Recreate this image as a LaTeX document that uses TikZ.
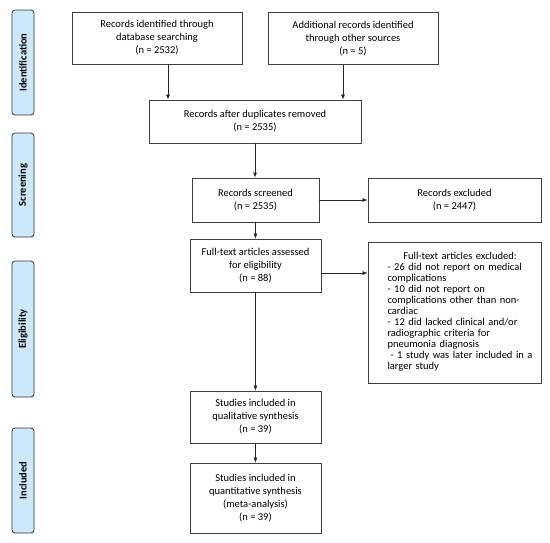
\documentclass[tikz,border=0pt]{standalone}
\usepackage{fontspec}
\setmainfont{Carlito}
\usetikzlibrary{arrows.meta}
\definecolor{phasecol}{RGB}{204,232,251}
\begin{document}
\begin{tikzpicture}[x=1pt,y=-1pt,
  box/.style={draw=black!75, line width=0.8pt, align=center, inner sep=2pt,
    font=\fontsize{10.5}{13}\selectfont},
  phase/.style={draw=black!80, line width=0.8pt, rounded corners=3pt, fill=phasecol,
    minimum height=22pt, rotate=90, inner sep=0pt,
    font=\fontsize{10.5}{12}\selectfont\bfseries},
  arr/.style={-{Latex[length=5pt,width=4pt]}, line width=0.7pt, draw=black!85}]
\useasboundingbox[fill=white] (0,0) rectangle (550,542);

% phase labels
\node[phase, minimum width=105pt] (pid) at (23,62.5) {Identification};
\node[phase, minimum width=104pt] (psc) at (23,185) {Screening};
\node[phase, minimum width=136pt] (pel) at (23,329) {Eligibility};
\node[phase, minimum width=105pt] (pin) at (23,480.5) {Included};

% boxes
\node[box, minimum width=170pt, minimum height=52pt] (A) at (157,38)
  {Records identified through\\database searching\\(n = 2532)};
\node[box, minimum width=170pt, minimum height=52pt] (B) at (353,38.5)
  {Additional records identified\\through other sources\\(n = 5)};
\node[box, minimum width=212pt, minimum height=43pt] (C) at (255,121.5)
  {Records after duplicates removed\\(n = 2535)};
\node[box, minimum width=127pt, minimum height=44pt] (D) at (255.5,200)
  {Records screened\\(n = 2535)};
\node[box, minimum width=173pt, minimum height=44pt] (E) at (454.5,200)
  {Records excluded\\(n = 2447)};
\node[box, minimum width=131pt, minimum height=53pt] (F) at (255.5,265.5)
  {Full-text articles assessed\\for eligibility\\(n = 88)};
\node[box, minimum width=173pt, minimum height=141pt] (G) at (454.5,312.5) {};
\node[text width=145pt, align=left, inner sep=0pt, font=\fontsize{10.5}{11}\selectfont]
  (Gt) at (460,312)
  {\makebox[145pt]{Full-text articles excluded:}\\
   - 26 did not report on medical\\
   complications\\
   - 10 did not report on\\
   complications other than non-\\
   cardiac\\
   - 12 did lacked clinical and/or\\
   radiographic criteria for\\
   pneumonia diagnosis\\
   \hspace*{3pt}- 1 study was later included in a\\
   larger study};
\node[box, minimum width=131pt, minimum height=52pt] (H) at (255.5,417)
  {Studies included in\\qualitative synthesis\\(n = 39)};
\node[box, minimum width=131pt, minimum height=70pt] (I) at (255.5,498)
  {Studies included in\\quantitative synthesis\\(meta-analysis)\\(n = 39)};

% connectors
\draw[arr] ([xshift=11pt]A.south) -- ([xshift=11pt]A.south |- C.north);
\draw[arr] ([xshift=-10pt]B.south) -- ([xshift=-10pt]B.south |- C.north);
\draw[arr] (C.south) -- (C.south |- D.north);
\draw[arr] (D.east) -- (D.east -| E.west);
\draw[arr] (D.south) -- (D.south |- F.north);
\draw[arr] ([yshift=-7.5pt]F.east) -- ([yshift=-7.5pt]F.east -| G.west);
\draw[arr] (F.south) -- (F.south |- H.north);
\draw[arr] (H.south) -- (H.south |- I.north);
\end{tikzpicture}
\end{document}
